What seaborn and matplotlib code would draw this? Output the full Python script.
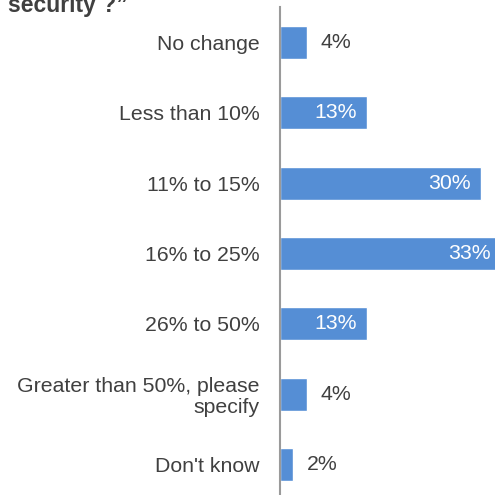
import matplotlib
matplotlib.use("Agg")
import matplotlib.pyplot as plt
import seaborn as sns
import pandas as pd

# Survey answers and the share of respondents for each
categories = [
    "No change",
    "Less than 10%",
    "11% to 15%",
    "16% to 25%",
    "26% to 50%",
    "Greater than 50%, please\nspecify",
    "Don't know",
]
shares = [4, 13, 30, 33, 13, 4, 2]
share_labels = ["4%", "13%", "30%", "33%", "13%", "4%", "2%"]
title_tail = "security ?\u201d"

sns.set_theme(style="white")
plt.rcParams["font.family"] = ["Liberation Sans", "DejaVu Sans"]

BAR_COLOR = "#558ED5"
TEXT_COLOR = "#404040"
FS = 15.3

df = pd.DataFrame({"answer": categories, "share": shares})

fig = plt.figure(figsize=(4.95, 4.95), dpi=100)
W = H = 495.0
ax_left, ax_top, ax_bottom = 280 / W, 7.3 / H, 499.7 / H
ax = fig.add_axes([ax_left, 1 - ax_bottom, 1 - ax_left, ax_bottom - ax_top])

sns.barplot(data=df, x="share", y="answer", orient="h", color=BAR_COLOR,
            saturation=1, width=0.47, ax=ax)

ax.set_xlim(0, 215 / 6.7)
ax.set_xlabel("")
ax.set_ylabel("")
ax.set_xticks([])
for side in ("top", "right", "bottom"):
    ax.spines[side].set_visible(False)
ax.spines["left"].set_color("#9a9a9a")
ax.spines["left"].set_linewidth(1.5)
ax.spines["left"].set_zorder(5)

ax.tick_params(axis="y", length=0, pad=14.5, labelsize=FS, labelcolor=TEXT_COLOR)
for lab in ax.get_yticklabels():
    lab.set_linespacing(1.1)

# Value labels: white inside long bars, dark grey beside short ones
for i, (v, txt) in enumerate(zip(shares, share_labels)):
    if v >= 10:
        ax.annotate(txt, xy=(v, i), xytext=(-7.5, 0), textcoords="offset points",
                    ha="right", va="center", color="white", fontsize=FS,
                    annotation_clip=False)
    else:
        ax.annotate(txt, xy=(v, i), xytext=(10, 0), textcoords="offset points",
                    ha="left", va="center", color=TEXT_COLOR, fontsize=FS,
                    annotation_clip=False)

fig.text(8 / W, 1 - 12 / H, title_tail, ha="left", va="baseline",
         fontsize=16.5, fontweight="bold", color=TEXT_COLOR)

fig.savefig("out.png", dpi=100)
